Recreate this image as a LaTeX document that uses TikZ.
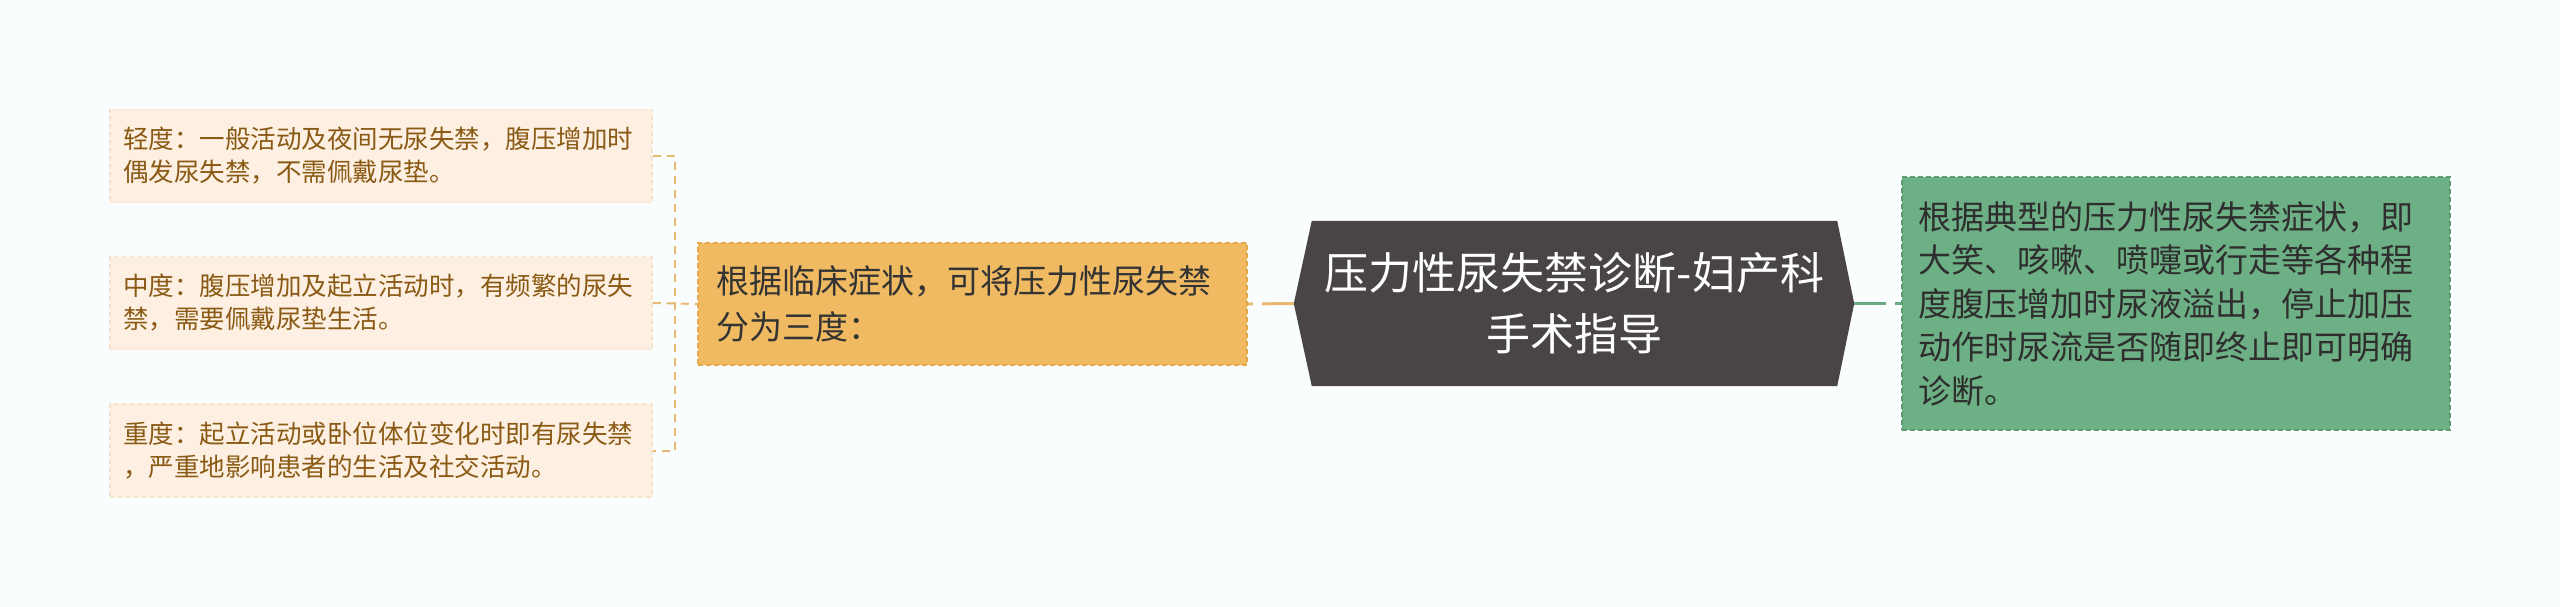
\documentclass[tikz,border=0pt]{standalone}
\usepackage{fontspec}
\setmainfont{Noto Sans CJK SC}
\usetikzlibrary{backgrounds}
\definecolor{fond}{HTML}{F9FDFE}
\definecolor{feuillefond}{HTML}{FDF0E2}
\definecolor{feuillebord}{HTML}{F6E3CC}
\definecolor{brun}{HTML}{8A5A14}
\definecolor{moyenfond}{HTML}{F0BA62}
\definecolor{moyenbord}{HTML}{E4A74B}
\definecolor{sombre}{HTML}{4A4545}
\definecolor{vertfond}{HTML}{6EB085}
\definecolor{vertbord}{HTML}{5C9A72}
\definecolor{lienorange}{HTML}{E8B870}
\definecolor{lienvert}{HTML}{6AAA83}
\newcommand{\taille}[2]{\fontsize{#1pt}{#2pt}\selectfont}

\begin{document}
\begin{tikzpicture}[x=1pt, y=-1pt,
    feuille/.style={fill=feuillefond, draw=feuillebord, line width=1.5pt, dash pattern=on 5pt off 3pt,
        text=brun, font=\taille{25.5}{33}, align=left, text width=516pt, inner xsep=13pt, inner ysep=0pt, minimum height=93pt},
    moyen/.style={fill=moyenfond, draw=moyenbord, line width=1.5pt, dash pattern=on 5pt off 3pt,
        text=black!80, font=\taille{33}{46}, align=left, text width=513pt, inner xsep=18pt, inner ysep=0pt, minimum height=122pt},
    conseil/.style={fill=vertfond, draw=vertbord, line width=1.5pt, dash pattern=on 5pt off 3pt,
        text=black!82, font=\taille{33}{43.5}, align=left, text width=516pt, inner xsep=16pt, inner ysep=0pt, minimum height=253pt},
    lienfeuille/.style={draw=lienorange, line width=2pt, dash pattern=on 8pt off 6pt},
    lientitre/.style={line width=3pt, dash pattern=on 32pt off 9pt}]
    \useasboundingbox (0,0) rectangle (2560,607);

    \node[feuille] (leger) at (381,156) {轻度：一般活动及夜间无尿失禁，腹压增加时\\偶发尿失禁，不需佩戴尿垫。};
    \node[feuille] (moyen) at (381,303) {中度：腹压增加及起立活动时，有频繁的尿失\\禁，需要佩戴尿垫生活。};
    \node[feuille] (grave) at (381,450.5) {重度：起立活动或卧位体位变化时即有尿失禁\\，严重地影响患者的生活及社交活动。};

    \node[moyen] (degres) at (972.5,304) {根据临床症状，可将压力性尿失禁\\分为三度：};

    \node[text=white, font=\taille{44}{61}, align=center, inner sep=0pt, minimum width=525pt, minimum height=165pt] (titre) at (1574.5,303.5)
        {压力性尿失禁诊断-妇产科\\手术指导};
    \coordinate (pointeG) at ([xshift=-18pt]titre.west);
    \coordinate (pointeD) at ([xshift=17pt]titre.east);

    \node[conseil] (diagnostic) at (2176,303.5) {根据典型的压力性尿失禁症状，即\\大笑、咳嗽、喷嚏或行走等各种程\\度腹压增加时尿液溢出，停止加压\\动作时尿流是否随即终止即可明确\\诊断。};

    \begin{pgfonlayer}{background}
        \fill[fond] (0,0) rectangle (2560,607);
        \fill[sombre] (titre.north west) -- (titre.north east) -- (pointeD) -- (titre.south east)
            -- (titre.south west) -- (pointeG) -- cycle;
    \end{pgfonlayer}

    \coordinate (embranchement) at (675,303);
    \draw[lienfeuille] (leger.east) -- (leger.east -| embranchement) -- (grave.east -| embranchement) -- (grave.east);
    \draw[lienfeuille] (moyen.east) -- (degres.west);
    \draw[lientitre, draw=lienorange] (pointeG) -- (degres.east);
    \draw[lientitre, draw=lienvert] (pointeD) -- (diagnostic.west);
\end{tikzpicture}
\end{document}
